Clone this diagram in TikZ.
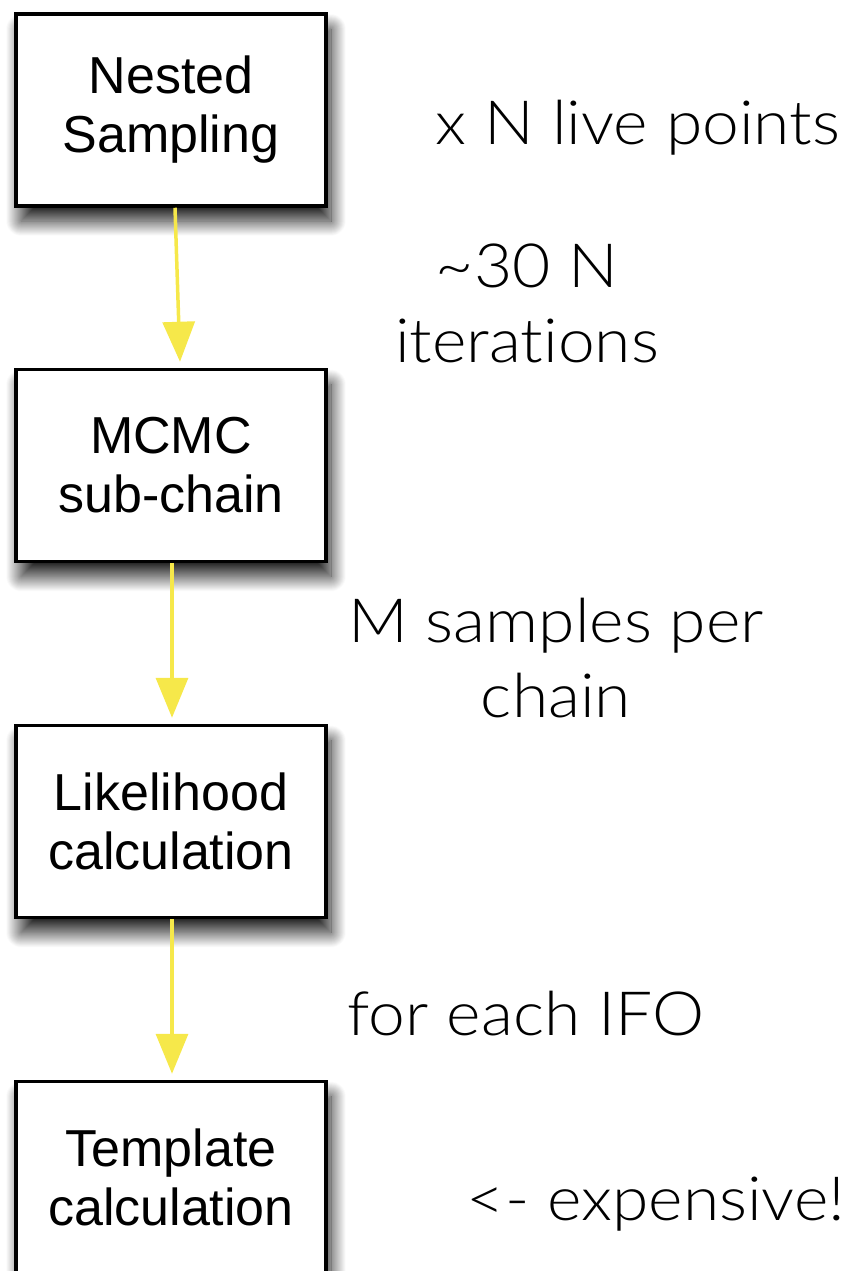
\documentclass[tikz,border=0pt]{standalone}
\usepackage{fontspec}
\setmainfont{Liberation Sans}
\newfontfamily\lightfont{Lato Light}[Ligatures=NoCommon, FakeStretch=1.08]
\usetikzlibrary{arrows.meta,shadows.blur,calc}
\definecolor{flowyellow}{HTML}{F6E84A}
\tikzset{
  x=1pt, y=-1pt,
  stage/.style={draw=black, line width=3.5pt, fill=white,
    minimum width=310pt, minimum height=192pt, inner sep=0pt,
    align=center, font=\fontsize{52}{59}\selectfont,
    blur shadow={shadow xshift=5pt, shadow yshift=-15pt,
      shadow blur radius=15pt, shadow blur steps=30, shadow opacity=90}},
  flow/.style={draw=flowyellow, line width=3.5pt,
    -{Triangle[length=40pt,width=32pt]}},
  note/.style={align=center, font=\lightfont\fontsize{61}{75}\selectfont}
}
\begin{document}
\begin{tikzpicture}
\useasboundingbox (0,0) rectangle (860,1271);
\node[stage] (ns) at (171,110) {Nested\\Sampling};
\node[stage] (mc) at (171,465.5) {MCMC\\sub-chain};
\node[stage] (lk) at (171,821.5) {Likelihood\\calculation};
\node[stage] (tp) at (171,1177.5) {Template\\calculation};

\draw[flow] ($(ns.south)+(4,0)$) -- ($(mc.north)+(9,-6)$);
\draw[flow] ($(mc.south)+(1,0)$) -- ($(lk.north)+(1,-6)$);
\draw[flow] ($(lk.south)+(1,0)$) -- ($(tp.north)+(1,-6)$);

\node[note, anchor=base] (t1) at (638,145) {x N live points};
\node[note, anchor=base] (t2) at (527,362) {\textasciitilde 30 N\\iterations};
\node[note, anchor=base] (t3) at (556,717) {M samples per\\chain};
\node[note, anchor=base] (t4) at (526,1035) {for each IFO};
\node[note, anchor=base] (t5) at (656,1220) {<- expensive!};
\end{tikzpicture}
\end{document}
